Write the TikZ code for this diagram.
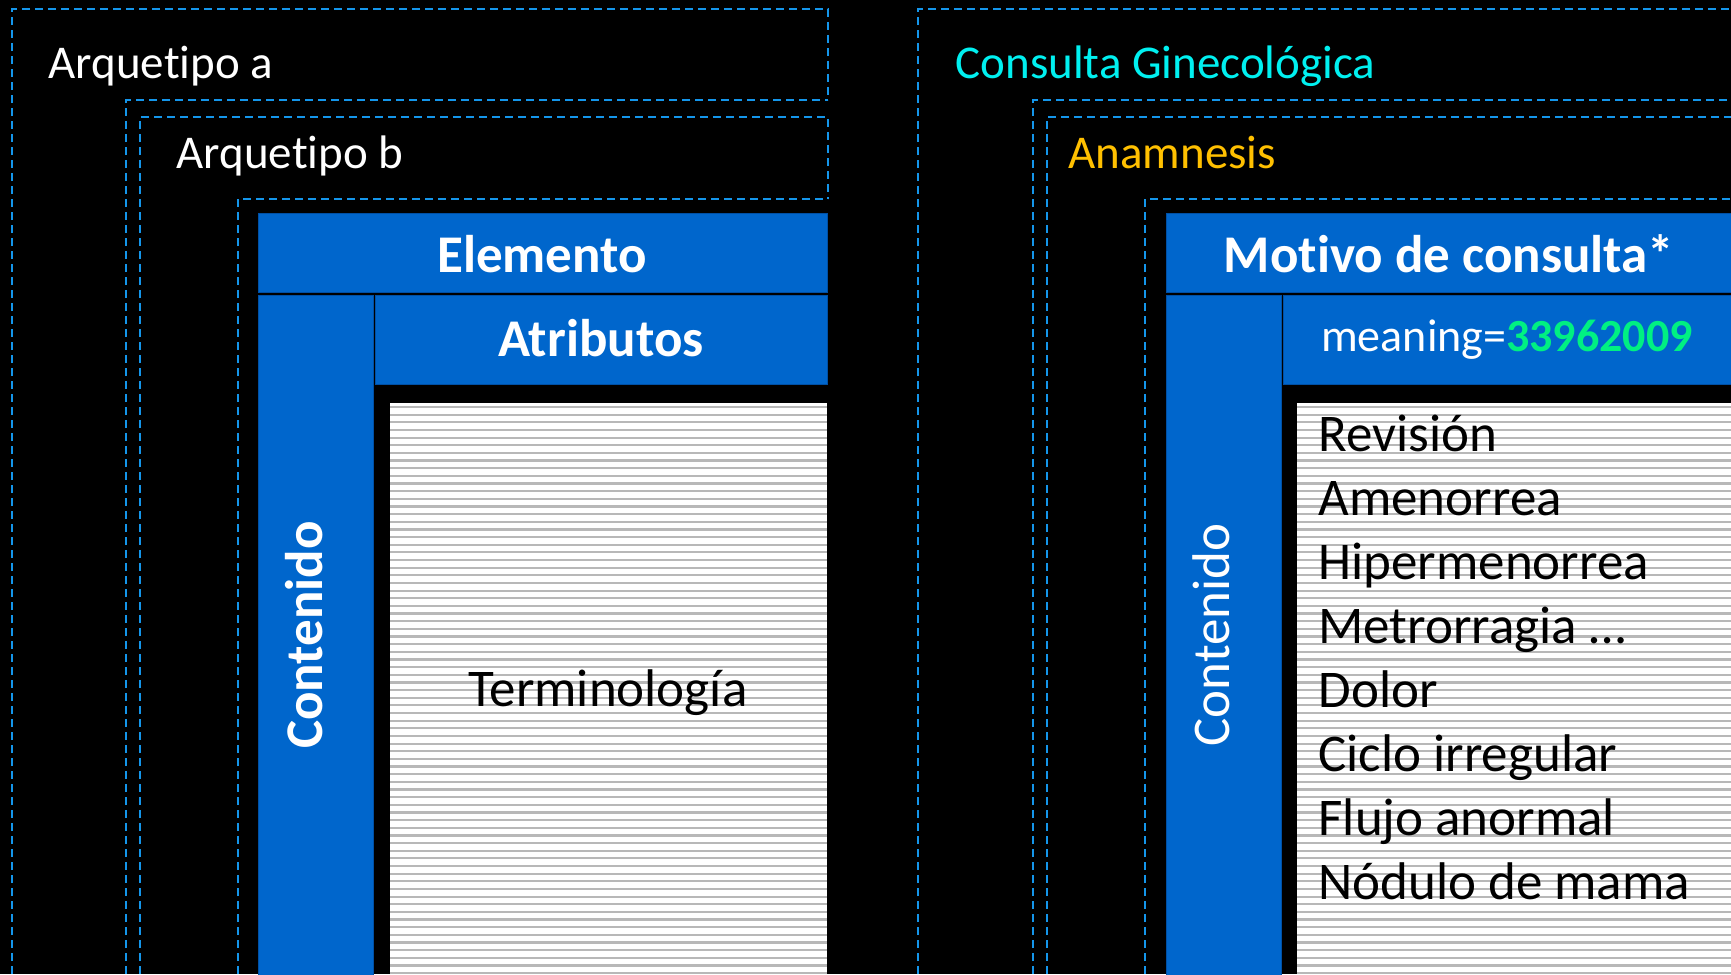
\documentclass[tikz,border=0pt]{standalone}
\usepackage{fontspec}
\setmainfont{Carlito}[Ligatures=NoCommon]
\definecolor{azulcaja}{RGB}{0,102,204}
\definecolor{azulborde}{RGB}{0,80,165}
\definecolor{azulguion}{RGB}{20,150,235}
\definecolor{cian}{RGB}{0,240,240}
\definecolor{oro}{RGB}{255,192,0}
\definecolor{verde}{RGB}{0,240,130}
\begin{document}
\begin{tikzpicture}[x=1pt, y=-1pt,
    marco/.style={azulguion, line width=2pt, dash pattern=on 8pt off 5pt},
    caja/.style={fill=azulcaja, draw=azulborde, line width=0.8pt},
    rayas/.style={black!28, line width=2.2pt},
    titulo/.style={font=\fontsize{47}{56}\selectfont, anchor=base west},
    negrita/.style={font=\fontsize{53}{64}\selectfont\bfseries, text=white, anchor=base},
    lista/.style={font=\fontsize{53}{64}\selectfont, anchor=base west}]

    % Fondo negro
    \fill[black] (0,0) rectangle (1731,974);
    \useasboundingbox (0,0) rectangle (1731,974);

    % ---- Lado izquierdo: estructura general ----
    % Marcos discontinuos de los arquetipos
    \draw[marco] (12,974) -- (12,9) -- (828,9) -- (828,100);
    \draw[marco] (126,974) -- (126,100) -- (828,100);
    \draw[marco] (140,974) -- (140,117) -- (828,117) -- (828,199);
    \draw[marco] (238,974) -- (238,199) -- (828,199);
    \node[titulo, text=white] (arqa) at (45,78) {Arquetipo a};
    \node[titulo, text=white] (arqb) at (173,168) {Arquetipo b};

    % Elemento con atributos y contenido
    \draw[caja] (258,213) rectangle (827,292);
    \node[negrita] (elem) at (542,272) {Elemento};
    \draw[caja] (258,295) rectangle (373,980);
    \node[negrita, rotate=90] (contiz) at (322,635) {Contenido};
    \draw[caja] (375,295) rectangle (827,384);
    \node[negrita] (atrib) at (601,356) {Atributos};

    % Zona rayada de terminología
    \fill[white] (390,403) rectangle (827,974);
    \foreach \y in {407,414.65,...,974}
        \draw[rayas] (390,\y) -- (827,\y);
    \node[font=\fontsize{53}{64}\selectfont, anchor=base] (term) at (608,706) {Terminología};

    % ---- Lado derecho: ejemplo concreto ----
    \draw[marco] (918,974) -- (918,9) -- (1731,9);
    \draw[marco] (1033,974) -- (1033,100) -- (1731,100);
    \draw[marco] (1047,974) -- (1047,117) -- (1731,117);
    \draw[marco] (1145,974) -- (1145,199) -- (1731,199);
    \node[titulo, text=cian] (consulta) at (952,78) {Consulta Ginecológica};
    \node[titulo, text=oro] (anam) at (1065,168) {Anamnesis};

    \draw[caja] (1166,213) rectangle (1736,292);
    \node[negrita] (motivo) at (1449,272) {Motivo de consulta*};
    \draw[caja] (1166,295) rectangle (1281,980);
    \node[font=\fontsize{53}{64}\selectfont, text=white, anchor=base, rotate=90] (contder) at (1229,635) {Contenido};
    \draw[caja] (1283,295) rectangle (1736,384);
    \node[font=\fontsize{46}{54}\selectfont, text=white, anchor=base] (mean) at (1507,351)
        {meaning=\textbf{\textcolor{verde}{33962009}}};

    % Lista de valores posibles
    \fill[white] (1297,403) rectangle (1731,974);
    \foreach \y in {407,414.65,...,974}
        \draw[rayas] (1297,\y) -- (1731,\y);
    \foreach \txt [count=\i from 0] in {Revisión, Amenorrea, Hipermenorrea, Metrorragia \dots,
        Dolor, Ciclo irregular, Flujo anormal, Nódulo de mama}
        \node[lista] (val\i) at (1315,451+64*\i) {\txt};
\end{tikzpicture}
\end{document}
